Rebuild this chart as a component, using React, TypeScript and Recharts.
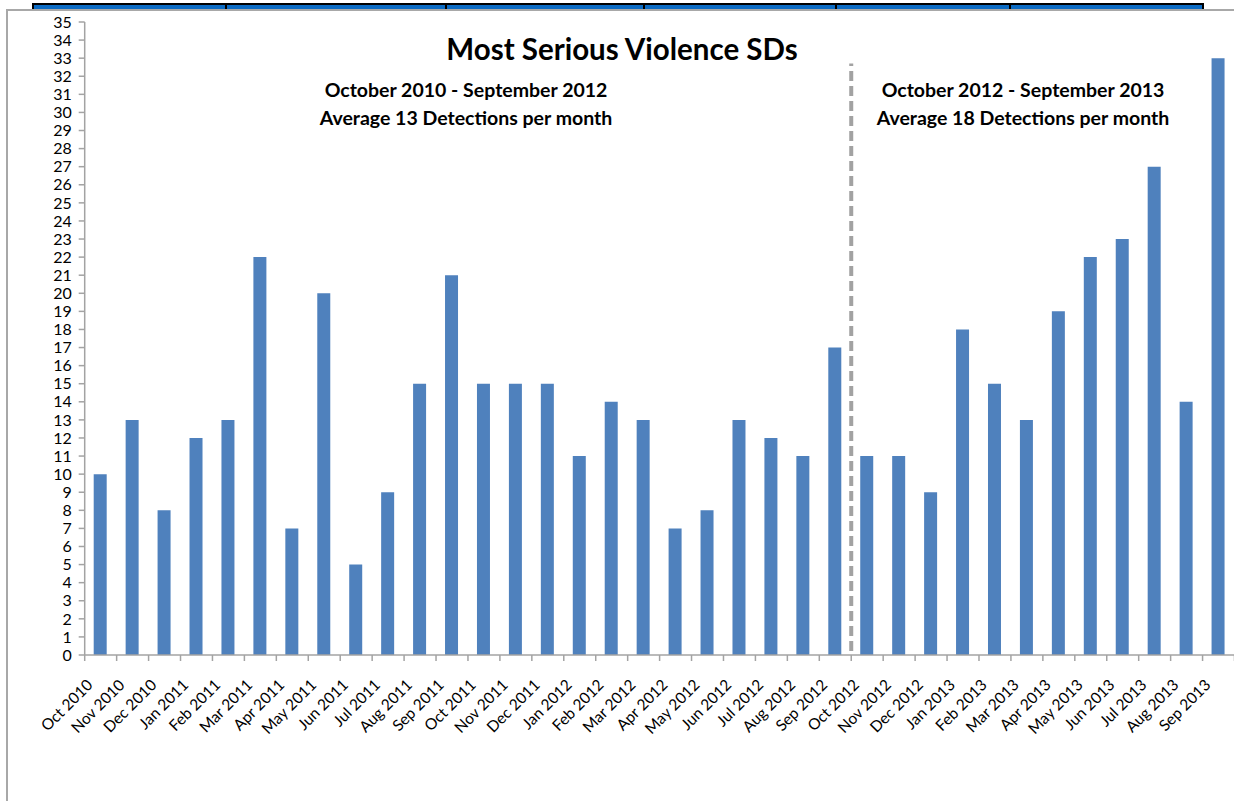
import React from 'react';
import { BarChart, Bar, XAxis, YAxis, ReferenceLine, Customized } from 'recharts';

const months = [
  'Oct 2010', 'Nov 2010', 'Dec 2010', 'Jan 2011', 'Feb 2011', 'Mar 2011',
  'Apr 2011', 'May 2011', 'Jun 2011', 'Jul 2011', 'Aug 2011', 'Sep 2011',
  'Oct 2011', 'Nov 2011', 'Dec 2011', 'Jan 2012', 'Feb 2012', 'Mar 2012',
  'Apr 2012', 'May 2012', 'Jun 2012', 'Jul 2012', 'Aug 2012', 'Sep 2012',
  'Oct 2012', 'Nov 2012', 'Dec 2012', 'Jan 2013', 'Feb 2013', 'Mar 2013',
  'Apr 2013', 'May 2013', 'Jun 2013', 'Jul 2013', 'Aug 2013', 'Sep 2013',
];

const detections = [
  10, 13, 8, 12, 13, 22, 7, 20, 5, 9, 15, 21,
  15, 15, 15, 11, 14, 13, 7, 8, 13, 12, 11, 17,
  11, 11, 9, 18, 15, 13, 19, 22, 23, 27, 14, 33,
];

const yTicks = Array.from({ length: 36 }, (_, i) => i);

// Period split: the divider sits at the end of the last month of the first period
const splitMonth = 'Sep 2012';
const dividerBottom = 0.22;
const dividerTop = 32.7;

const chartTitle = 'Most Serious Violence SDs';
const periodA = ['October 2010 - September 2012', 'Average 13 Detections per month'];
const periodB = ['October 2012 - September 2013', 'Average 18 Detections per month'];

const data = months.map((m, i) => ({ month: m, value: detections[i] }));

const FONT = 'Lato, "Open Sans", sans-serif';
const AXIS_GREY = '#A3A3A3';

const XTick = (props: any) => {
  const { x, y, payload, index, visibleTicksCount, width } = props;
  const half =
    payload && typeof payload.offset === 'number' && payload.offset > 0
      ? payload.offset
      : width / visibleTicksCount / 2;
  const tx = x - 7;
  const ty = y + 31;
  return (
    <g>
      <line x1={x - half} x2={x - half} y1={y} y2={y + 6} stroke={AXIS_GREY} strokeWidth={1.5} />
      {index === visibleTicksCount - 1 && (
        <line x1={x + half} x2={x + half} y1={y} y2={y + 6} stroke={AXIS_GREY} strokeWidth={1.5} />
      )}
      <text
        x={tx}
        y={ty}
        textAnchor="end"
        transform={`rotate(-45, ${tx}, ${ty})`}
        fontFamily={FONT}
        fontSize={15.5}
        fill="#000"
      >
        {payload.value}
      </text>
    </g>
  );
};

const Titles = () => (
  <g fontFamily={FONT} fontWeight={700} fill="#000" textAnchor="middle">
    <text x={622} y={60} fontSize={29.5}>{chartTitle}</text>
    <text x={466} y={97} fontSize={19.5}>{periodA[0]}</text>
    <text x={466} y={125} fontSize={19.5}>{periodA[1]}</text>
    <text x={1023} y={97} fontSize={19.5}>{periodB[0]}</text>
    <text x={1023} y={125} fontSize={19.5}>{periodB[1]}</text>
  </g>
);

const headerNotches = [33, 226, 446, 644, 836, 1010, 1203];

export default function App() {
  return (
    <div
      style={{
        position: 'absolute',
        left: 0,
        top: 0,
        width: 1234,
        height: 801,
        overflow: 'hidden',
        background: '#fff',
      }}
    >
      {/* table header strip above the chart object */}
      <div
        style={{
          position: 'absolute',
          left: 33,
          top: 3,
          width: 1171,
          height: 5,
          background: '#0B6BC4',
          borderTop: '2px solid #000',
        }}
      />
      {headerNotches.map((nx) => (
        <div
          key={nx}
          style={{ position: 'absolute', left: nx - 1, top: 3, width: 2, height: 7, background: '#000' }}
        />
      ))}
      {/* chart object frame */}
      <div style={{ position: 'absolute', left: 6, top: 9, width: 1240, height: 2, background: '#A8A8A8' }} />
      <div style={{ position: 'absolute', left: 6, top: 9, width: 2, height: 800, background: '#A8A8A8' }} />

      <div style={{ position: 'absolute', left: 0, top: 0 }}>
        <BarChart
          width={1240}
          height={801}
          data={data}
          margin={{ top: 22, right: 5.5, left: 24.7, bottom: 46 }}
        >
          <XAxis
            dataKey="month"
            interval={0}
            height={100}
            tickLine={false}
            tickSize={0}
            tickMargin={0}
            axisLine={{ stroke: AXIS_GREY, strokeWidth: 1.5 }}
            tick={<XTick />}
          />
          <YAxis
            domain={[0, 35]}
            ticks={yTicks}
            interval={0}
            width={60}
            tickSize={6}
            tickMargin={7}
            axisLine={{ stroke: AXIS_GREY, strokeWidth: 1.5 }}
            tickLine={{ stroke: AXIS_GREY, strokeWidth: 1.5 }}
            tick={{ fill: '#000', fontSize: 16, fontFamily: FONT }}
          />
          <Bar dataKey="value" fill="#4F81BD" barSize={13} isAnimationActive={false} />
          <ReferenceLine
            segment={[
              { x: splitMonth, y: dividerBottom },
              { x: splitMonth, y: dividerTop },
            ]}
            position="end"
            stroke="#A2A2A2"
            strokeWidth={4}
            strokeDasharray="10 5"
            ifOverflow="visible"
          />
          <Customized component={<Titles />} />
        </BarChart>
      </div>
    </div>
  );
}
